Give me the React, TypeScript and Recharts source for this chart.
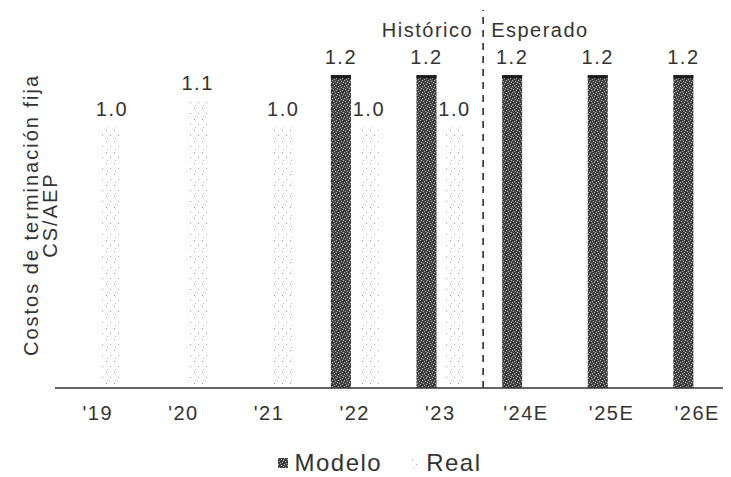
import { BarChart, Bar, XAxis, YAxis, LabelList, Legend, ReferenceLine } from 'recharts';

const years = ["'19", "'20", "'21", "'22", "'23", "'24E", "'25E", "'26E"];
const modelo = [null, null, null, 1.2, 1.2, 1.2, 1.2, 1.2];
const real = [1.0, 1.1, 1.0, 1.0, 1.0, null, null, null];

const seriesNames = { modelo: 'Modelo', real: 'Real' };
const phaseLabels = ['Histórico', 'Esperado'];
const yTitle = ['Costos de terminación fija', 'CS/AEP'];

const data = years.map((year, i) => ({ year, modelo: modelo[i], real: real[i] }));

const FONT = '"Liberation Sans", Arial, sans-serif';
const INK = '#333';

// stipple fills shared by bars and legend swatches
const Patterns = () => (
  <svg width={0} height={0} style={{ position: 'absolute' }}>
    <defs>
      <pattern id="modeloDots" width={6} height={6} patternUnits="userSpaceOnUse">
        <rect width={6} height={6} fill="#444" />
        <rect x={0} y={0} width={1} height={1} fill="#b4b4b4" />
        <rect x={3} y={1} width={1} height={1} fill="#aaa" />
        <rect x={5} y={2} width={1} height={1} fill="#bbb" />
        <rect x={1} y={3} width={1} height={1} fill="#aaa" />
        <rect x={4} y={4} width={1} height={1} fill="#b4b4b4" />
        <rect x={2} y={5} width={1} height={1} fill="#aaa" />
        <rect x={0} y={4} width={1} height={1} fill="#222" />
        <rect x={5} y={5} width={1} height={1} fill="#222" />
      </pattern>
      <pattern id="realDots" width={8} height={11} patternUnits="userSpaceOnUse">
        <rect width={8} height={11} fill="#fff" />
        <rect x={2} y={1} width={1} height={1} fill="#9a9a9a" />
        <rect x={6} y={6} width={1} height={1} fill="#a5a5a5" />
        <rect x={3} y={9} width={1} height={1} fill="#bbb" />
      </pattern>
    </defs>
  </svg>
);

const ModeloBar = (props: any) => {
  const { x, y, width, height } = props;
  if (!height || height <= 0) return null;
  return (
    <g>
      <rect x={x} y={y} width={width} height={height} fill="url(#modeloDots)" />
      <rect x={x} y={y} width={width} height={3} fill="#1a1a1a" />
    </g>
  );
};

const ValueLabel = (props: any) => {
  const { x, y, width, value } = props;
  if (value == null || x == null) return null;
  return (
    <text
      x={x + width / 2}
      y={y - 11}
      textAnchor="middle"
      fontFamily={FONT}
      fontSize={20}
      letterSpacing={1.5}
      fill={INK}
    >
      {Number(value).toFixed(1)}
    </text>
  );
};

const YTitle = (props: any) => {
  const vb = props.viewBox;
  const cy = vb.y + vb.height / 2 + 16;
  return (
    <g fontFamily={FONT} fontSize={20} fill={INK} textAnchor="middle" letterSpacing={2}>
      <text x={23} y={cy} transform={`rotate(-90 23 ${cy})`} dominantBaseline="central">
        {yTitle[0]}
      </text>
      <text x={42} y={cy} transform={`rotate(-90 42 ${cy})`} dominantBaseline="central">
        {yTitle[1]}
      </text>
    </g>
  );
};

const PhaseLabels = (props: any) => {
  const vb = props.viewBox;
  const y = vb.y + 27;
  return (
    <g fontFamily={FONT} fontSize={20} fill={INK} letterSpacing={1.5}>
      <text x={vb.x - 10} y={y} textAnchor="end">{phaseLabels[0]}</text>
      <text x={vb.x + 8} y={y} textAnchor="start">{phaseLabels[1]}</text>
    </g>
  );
};

const ChartLegend = () => {
  const items = [
    { name: seriesNames.modelo, fill: 'url(#modeloDots)' },
    { name: seriesNames.real, fill: 'url(#realDots)' },
  ];
  return (
    <div
      style={{
        height: 39,
        display: 'flex',
        justifyContent: 'center',
        alignItems: 'flex-end',
        gap: 28,
        paddingLeft: 12,
        fontFamily: FONT,
        fontSize: 24,
        letterSpacing: 1.5,
        color: INK,
        lineHeight: '28px',
      }}
    >
      {items.map((item) => (
        <div key={item.name} style={{ display: 'flex', alignItems: 'center', gap: 6 }}>
          <svg width={10} height={10}>
            <rect width={10} height={10} fill={item.fill} />
          </svg>
          <span>{item.name}</span>
        </div>
      ))}
    </div>
  );
};

export default function App() {
  return (
    <div style={{ width: 723, height: 469, overflow: 'hidden', position: 'relative' }}>
      <Patterns />
      <BarChart
        width={732}
        height={469}
        data={data}
        margin={{ top: 2, right: 0, bottom: 0, left: 0 }}
        barSize={20}
        barGap={8}
      >
        <XAxis
          dataKey="year"
          interval={0}
          tickLine={false}
          tickSize={0}
          tickMargin={18}
          height={50}
          axisLine={{ stroke: '#333', strokeWidth: 1.5 }}
          tick={{ fill: INK, fontSize: 20, fontFamily: FONT, letterSpacing: 1.5 }}
        />
        <YAxis
          domain={[0, 1.45]}
          width={47}
          tick={false}
          tickLine={false}
          axisLine={false}
          label={YTitle}
        />
        <ReferenceLine
          x="'24E"
          position="start"
          stroke="#222"
          strokeWidth={1.5}
          strokeDasharray="7 6"
          label={PhaseLabels}
        />
        <Bar dataKey="modelo" name={seriesNames.modelo} shape={ModeloBar} isAnimationActive={false}>
          <LabelList dataKey="modelo" content={ValueLabel} />
        </Bar>
        <Bar dataKey="real" name={seriesNames.real} fill="url(#realDots)" isAnimationActive={false}>
          <LabelList dataKey="real" content={ValueLabel} />
        </Bar>
        <Legend verticalAlign="bottom" content={ChartLegend} />
      </BarChart>
    </div>
  );
}
